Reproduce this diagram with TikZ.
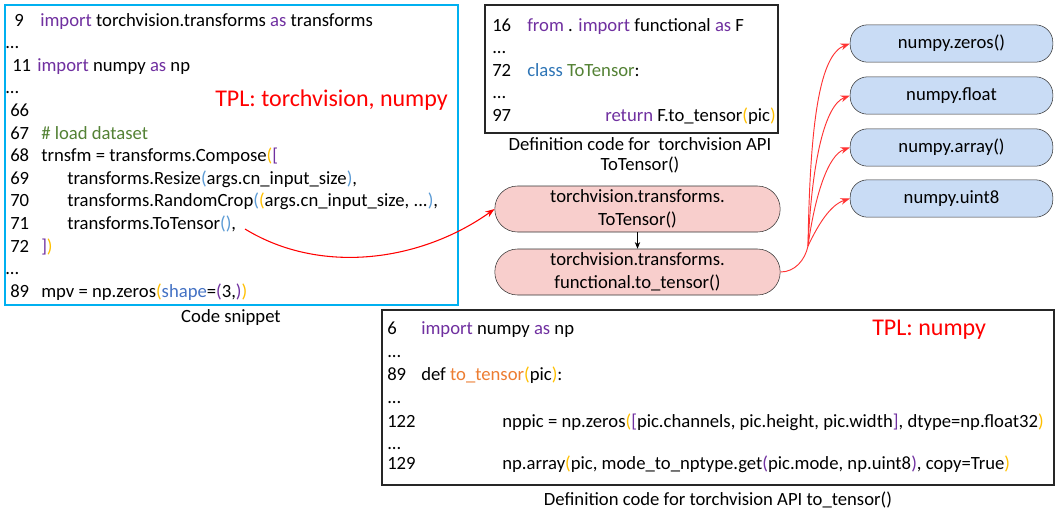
\documentclass[tikz,border=0pt]{standalone}
\usepackage{fontspec}
\setmainfont{Carlito}
\usetikzlibrary{arrows.meta}
\definecolor{kw}{HTML}{7030A0}
\definecolor{clsblue}{HTML}{2E75B6}
\definecolor{cgreen}{HTML}{548235}
\definecolor{gold}{HTML}{FFC000}
\definecolor{pblue}{HTML}{5B9BD5}
\definecolor{shblue}{HTML}{4472C4}
\definecolor{orng}{HTML}{ED7D31}
\definecolor{skyb}{HTML}{00B0F0}
\definecolor{pinkf}{HTML}{F8CECC}
\definecolor{bluef}{HTML}{C9DCF5}
\newcommand{\K}[1]{\textcolor{kw}{#1}}
\newcommand{\G}[1]{\textcolor{gold}{#1}}
\newcommand{\PB}[1]{\textcolor{pblue}{#1}}
\begin{document}
\begin{tikzpicture}[x=0.75pt,y=-0.75pt,
  code/.style={anchor=base west,inner sep=0pt,font=\fontsize{14}{16}\selectfont},
  captxt/.style={inner sep=0pt,font=\fontsize{14}{15}\selectfont,align=center},
  tpl/.style={anchor=west,inner sep=0pt,text=red,font=\fontsize{18}{20}\selectfont},
  pinknode/.style={draw=black!80,fill=pinkf,rounded corners=17pt,minimum width=214pt,minimum height=34.5pt,align=center,font=\fontsize{14}{17}\selectfont,inner sep=0pt},
  bluenode/.style={draw=black!80,fill=bluef,rounded corners=13pt,minimum width=152pt,minimum height=28pt,font=\fontsize{14}{16}\selectfont,inner sep=0pt},
  redarr/.style={draw=red,line width=0.8pt,-{Stealth[length=7pt,width=5pt]}},
  fanarr/.style={draw=red!80,line width=0.7pt,-{Stealth[length=7pt,width=5pt]}}]
\useasboundingbox (0,0) rectangle (1057,515);
\fill[white] (0,0) rectangle (1057,515);
% left code box
\draw[skyb,line width=1.1pt] (5,5) rectangle (458,305);
\node[code] (l9n) at (14,26) {9};
\node[code] (l9) at (40,26) {\K{import} torchvision.transforms \K{as} transforms};
\node[code] (d1) at (5,48.6) {...};
\node[code] (l11n) at (12,71.2) {11};
\node[code] (l11) at (37,71.2) {\K{import} numpy \K{as} np};
\node[code] (d2) at (5,93.8) {...};
\node[code] (l66n) at (10,116.4) {66};
\node[code] (l67n) at (10,139) {67};
\node[code] (l67) at (41,139) {\textcolor{cgreen}{\# load dataset}};
\node[code] (l68n) at (10,161.6) {68};
\node[code] (l68) at (41,161.6) {trnsfm = transforms.Compose\G{(}\K{[}};
\node[code] (l69n) at (10,184.2) {69};
\node[code] (l69) at (67,184.2) {transforms.Resize\PB{(}args.cn\_input\_size\PB{)},};
\node[code] (l70n) at (10,206.8) {70};
\node[code] (l70) at (67,206.8) {transforms.RandomCrop\PB{(}\G{(}args.cn\_input\_size, ...\PB{)},};
\node[code] (l71n) at (10,229.4) {71};
\node[code] (l71) at (67,229.4) {transforms.ToTensor\PB{()},};
\node[code] (l72n) at (10,252) {72};
\node[code] (l72) at (41,252) {\K{]}\G{)}};
\node[code] (d3) at (5,274.6) {...};
\node[code] (l89n) at (10,297.2) {89};
\node[code] (l89) at (41,297.2) {mpv = np.zeros\G{(}\textcolor{shblue}{shape}=\K{(}3,\K{)}\G{)}};
\node[tpl] (tpl1) at (215,100) {TPL: torchvision, numpy};
\node[captxt] (cap1) at (231,318) {Code snippet};
% top middle box
\draw[black!85,line width=0.8pt] (485,5) rectangle (778,133);
\node[code] (m16n) at (492,31) {16};
\node[code] (m16) at (527,31) {\K{from} . \K{import} functional \K{as} F};
\node[code] (md1) at (492,53.5) {...};
\node[code] (m72n) at (492,76) {72};
\node[code] (m72) at (527,76) {\textcolor{clsblue}{class} \textcolor{cgreen}{ToTensor}:};
\node[code] (md2) at (492,98.5) {...};
\node[code] (m97n) at (492,121) {97};
\node[code] (m97) at (605,121) {\K{return} F.to\_tensor\G{(}pic\G{)}};
\node[captxt] (cap2) at (640,155) {Definition code for \ torchvision API\\ToTensor()};
% pink nodes
\node[pinknode] (tt) at (637.5,209) {torchvision.transforms.\\ToTensor()};
\node[pinknode] (ft) at (637.5,272) {torchvision.transforms.\\functional.to\_tensor()};
\draw[black,line width=0.6pt,-{Stealth[length=5pt,width=4pt]}] (tt) -- (ft);
% red arrow from code
\coordinate (src) at (245,229);
\draw[redarr] (src) .. controls (320,275) and (420,262) .. (tt.west);
% blue nodes
\node[bluenode] (nz) at (951.5,43.5) {numpy.zeros()};
\node[bluenode] (nf) at (951.5,95.5) {numpy.float};
\node[bluenode] (na) at (951.5,147.5) {numpy.array()};
\node[bluenode] (nu) at (951.5,198.5) {numpy.uint8};
\coordinate (fan) at (808,246);
\draw[red!80,line width=0.7pt] (ft.east) .. controls (795,272) and (805,260) .. (fan);
\draw[fanarr] (fan) .. controls (810,120) and (820,55) .. (nz.west);
\draw[fanarr] (fan) .. controls (812,160) and (825,105) .. (nf.west);
\draw[fanarr] (fan) .. controls (815,195) and (828,155) .. (na.west);
\draw[fanarr] (fan) .. controls (818,225) and (830,205) .. (nu.west);
% bottom box
\draw[black!85,line width=0.8pt] (382,310) rectangle (1054,485);
\node[code] (b6n) at (387,334) {6};
\node[code] (b6) at (421,334) {\K{import} numpy \K{as} np};
\node[code] (bd1) at (387,357.2) {...};
\node[code] (b89n) at (387,380.4) {89};
\node[code] (b89) at (421,380.4) {def \textcolor{orng}{to\_tensor}\G{(}pic\G{)}:};
\node[code] (bd2) at (387,403.6) {...};
\node[code] (b122n) at (387,427) {122};
\node[code] (b122) at (502,427) {nppic = np.zeros\G{(}\K{[}pic.channels, pic.height, pic.width\K{]}, dtype=np.float32\G{)}};
\node[code] (bd3) at (387,449) {...};
\node[code] (b129n) at (387,469) {129};
\node[code] (b129) at (502,469) {np.array\G{(}pic, mode\_to\_nptype.get\K{(}pic.mode, np.uint8\K{)}, copy=True\G{)}};
\node[tpl] (tpl2) at (872,330) {TPL: numpy};
\node[captxt] (cap3) at (718,500) {Definition code for torchvision API to\_tensor()};
\end{tikzpicture}
\end{document}
